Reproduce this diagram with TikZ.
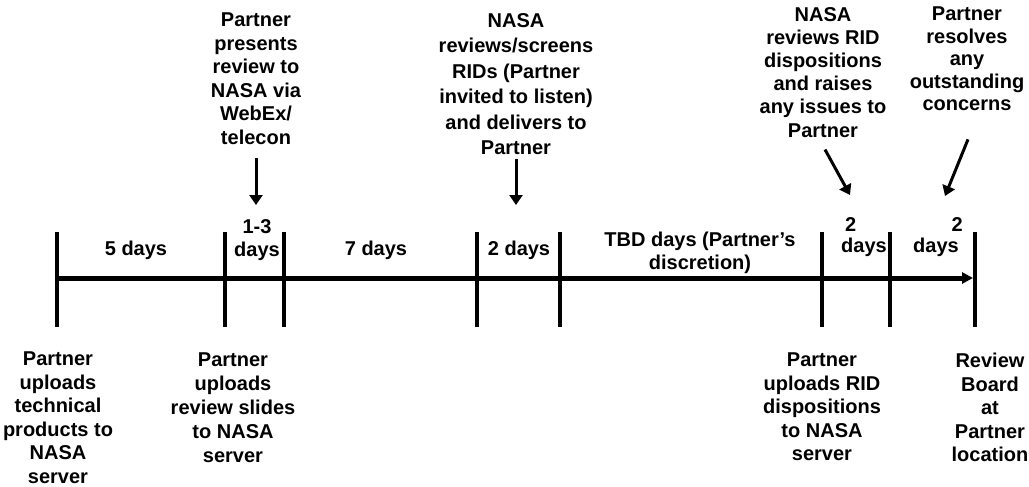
\documentclass[tikz,border=0pt]{standalone}
\usepackage{fontspec}
\setmainfont{Liberation Sans}
\usetikzlibrary{arrows.meta,positioning}

\begin{document}
\begin{tikzpicture}[x=1pt, y=-1pt,
  lbl/.style={align=center, inner sep=0pt, font=\fontsize{20}{#1}\selectfont\bfseries},
  lbl/.default=23.5,
  tick/.style={line width=4pt},
  pointer/.style={line width=3pt, -{Triangle[length=10pt,width=13pt]}},
  timeline/.style={line width=5pt, -{Triangle[length=11pt,width=11pt]}}]
  \useasboundingbox (0,0) rectangle (1029,487);

  % time line with its ticks
  \foreach \name/\x in {t0/57, t1/225, t2/284, t3/477, t4/560, t5/822, t6/890, t7/975}{
    \coordinate (\name) at (\x,278);
    \draw[tick] (\x,232) -- (\x,327);
  }
  \coordinate (tend) at (973,278);
  \draw[timeline] (t0) -- (tend);

  % durations
  \node[lbl] (d1) at (136,250) {5 days};
  \node[lbl] (d2) at (257,240) {1-3\\days};
  \node[lbl] (d3) at (376,250) {7 days};
  \node[lbl] (d4) at (519,250) {2 days};
  \node[lbl] (d5) at (700,253) {TBD days (Partner's\\discretion)};
  \node[lbl] (d6) at (864,247) {days};
  \node[lbl, above=6pt of d6.north west, anchor=south west, xshift=4pt] (n6) {2};
  \node[lbl] (d7) at (936,247) {days};
  \node[lbl, above=6pt of d7.north east, anchor=south east, xshift=4pt] (n7) {2};

  % events above the line
  \node[lbl, anchor=north] (pres) at (256,13) {Partner\\presents\\review to\\NASA via\\WebEx/\\telecon};
  \node[lbl=25.5, anchor=north] (screen) at (516,13) {NASA\\reviews/screens\\RIDs (Partner\\invited to listen)\\and delivers to\\Partner};
  \node[lbl=23.2, anchor=north] (raise) at (823,7) {NASA\\reviews RID\\dispositions\\and raises\\any issues to\\Partner};
  \node[lbl=22.5, anchor=north] (resolve) at (967,7) {Partner\\resolves\\any\\outstanding\\concerns};

  \coordinate (hitA) at (256,205);
  \coordinate (hitB) at (516,205);
  \coordinate (hitC) at (850,195);
  \coordinate (hitD) at (945,196);
  \draw[pointer] ([yshift=-13pt]pres.south) -- (hitA);
  \draw[pointer] ([yshift=-4pt]screen.south) -- (hitB);
  \draw[pointer] ([xshift=2pt,yshift=-12pt]raise.south) -- (hitC);
  \draw[pointer] ([xshift=1pt,yshift=-28pt]resolve.south) -- (hitD);

  % events below the line
  \node[lbl, anchor=north] (upload1) at (58,352) {Partner\\uploads\\technical\\products to\\NASA\\server};
  \node[lbl=24, anchor=north] (upload2) at (233,353) {Partner\\uploads\\review slides\\to NASA\\server};
  \node[lbl, anchor=north] (upload3) at (822,353) {Partner\\uploads RID\\dispositions\\to NASA\\server};
  \node[lbl, anchor=north] (board) at (990,353) {Review\\Board\\at\\Partner\\location};
\end{tikzpicture}
\end{document}
